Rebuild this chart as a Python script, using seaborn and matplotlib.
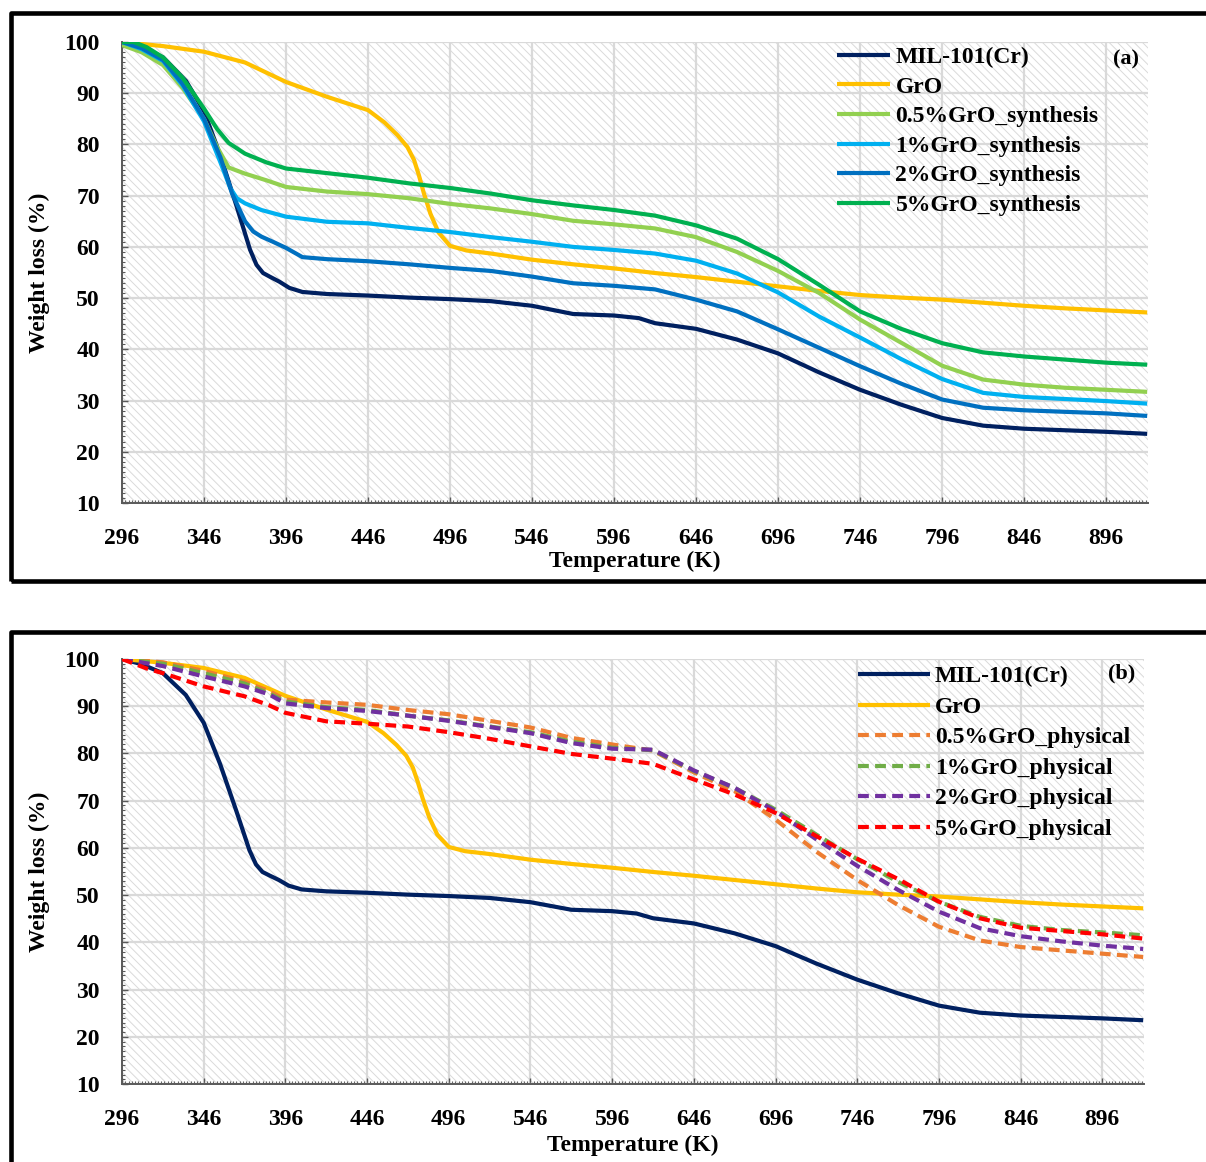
import matplotlib
matplotlib.use("Agg")
import matplotlib.pyplot as plt
import seaborn as sns
from matplotlib.patches import Rectangle
from matplotlib.ticker import MultipleLocator

# ---------------- data ----------------
mil_T = [296, 308, 321, 335, 346, 356, 366, 374, 378, 382, 386, 392, 398, 406, 421, 446, 471, 496,
         521, 546, 571, 596, 611, 621, 646, 671, 696, 721, 746, 771, 796, 821, 846, 871, 896, 921]
mil_w = [100, 98.9, 97.0, 92.4, 86.5, 77.8, 67.8, 59.5, 56.5, 54.9, 54.2, 53.2, 52.0, 51.2, 50.8, 50.5, 50.1, 49.8,
         49.4, 48.5, 46.9, 46.6, 46.1, 45.1, 44.0, 41.9, 39.2, 35.5, 32.1, 29.2, 26.6, 25.1, 24.5, 24.2, 23.9, 23.5]

gro_T = [296, 321, 346, 371, 396, 421, 446, 456, 464, 470, 474, 477, 480, 484, 489, 496, 506,
         521, 546, 571, 596, 621, 646, 671, 696, 721, 746, 771, 796, 821, 846, 871, 896, 921]
gro_w = [100, 99.2, 98.1, 96.0, 92.2, 89.3, 86.7, 84.3, 81.8, 79.5, 77.0, 74.0, 70.5, 66.5, 62.8, 60.2, 59.3,
         58.7, 57.5, 56.6, 55.8, 54.9, 54.1, 53.2, 52.3, 51.4, 50.6, 50.1, 49.7, 49.1, 48.5, 48.0, 47.6, 47.2]

s05_T = [296, 308, 321, 333, 346, 354, 361, 371, 384, 396, 421, 446, 471, 496, 521, 546, 571, 596,
         621, 646, 671, 696, 721, 746, 771, 796, 821, 846, 871, 896, 921]
s05_w = [99.4, 98.0, 95.5, 91.0, 85.0, 79.5, 75.5, 74.3, 73.0, 71.7, 70.8, 70.3, 69.5, 68.4, 67.5, 66.4, 65.1, 64.4,
         63.6, 61.9, 59.0, 55.3, 51.0, 45.8, 41.3, 36.8, 34.1, 33.1, 32.5, 32.1, 31.7]

s1_T = [296, 308, 321, 333, 346, 356, 362, 366, 371, 381, 396, 421, 446, 471, 496, 521, 546, 571, 596,
        621, 646, 671, 696, 721, 746, 771, 796, 821, 846, 871, 896, 921]
s1_w = [100, 98.6, 96.3, 91.5, 84.5, 76.5, 71.5, 69.5, 68.5, 67.2, 65.9, 64.9, 64.6, 63.7, 62.9, 61.9, 61.0, 60.0, 59.4,
        58.7, 57.3, 54.8, 51.1, 46.4, 42.3, 38.1, 34.2, 31.5, 30.7, 30.3, 29.9, 29.4]

s2_T = [296, 308, 321, 333, 346, 356, 363, 371, 376, 381, 388, 396, 406, 421, 446, 471, 496, 521, 546, 571, 596,
        621, 646, 671, 696, 721, 746, 771, 796, 821, 846, 871, 896, 921]
s2_w = [100, 98.8, 96.5, 91.8, 85.0, 77.5, 70.5, 65.0, 63.0, 62.0, 61.0, 59.8, 58.0, 57.6, 57.2, 56.6, 55.9, 55.3, 54.2, 52.9, 52.4,
        51.7, 49.7, 47.4, 43.9, 40.3, 36.7, 33.3, 30.2, 28.6, 28.1, 27.8, 27.5, 27.0]

s5_T = [296, 303, 311, 321, 333, 346, 354, 361, 371, 384, 396, 421, 446, 471, 496, 521, 546, 571, 596,
        621, 646, 671, 696, 721, 746, 771, 796, 821, 846, 871, 896, 921]
s5_w = [100, 100, 99.0, 97.0, 93.0, 87.0, 83.0, 80.3, 78.2, 76.5, 75.3, 74.4, 73.5, 72.4, 71.5, 70.4, 69.1, 68.1, 67.2,
        66.1, 64.2, 61.6, 57.6, 52.6, 47.4, 44.0, 41.2, 39.4, 38.6, 38.0, 37.4, 37.0]

phys_T = [296, 321, 346, 371, 386, 396, 421, 446, 471, 496, 521, 546, 571, 596,
          621, 646, 671, 696, 721, 746, 771, 796, 821, 846, 871, 896, 921]
p05_w = [100, 99.3, 97.5, 95.2, 93.2, 91.4, 90.8, 90.3, 89.2, 88.3, 86.9, 85.5, 83.3, 81.9,
         80.6, 76.0, 72.0, 66.0, 59.2, 53.2, 47.9, 43.3, 40.4, 39.0, 38.3, 37.6, 36.9]
p1_w = [100, 99.0, 97.0, 94.8, 92.7, 91.0, 89.8, 89.2, 88.0, 87.0, 85.7, 84.5, 82.5, 81.2,
        80.7, 76.3, 72.7, 68.1, 62.8, 57.6, 52.8, 48.6, 45.4, 43.5, 42.6, 42.1, 41.5]
p2_w = [100, 98.5, 96.3, 94.2, 92.5, 90.6, 89.6, 89.0, 88.0, 86.9, 85.6, 84.3, 82.2, 81.0,
        80.8, 76.4, 72.7, 67.8, 61.8, 56.2, 51.1, 46.5, 43.0, 41.3, 40.2, 39.3, 38.6]
p5_T = [296, 311, 321, 346, 371, 386, 396, 421, 446, 471, 496, 521, 546, 571, 596,
        621, 646, 671, 696, 721, 746, 771, 796, 821, 846, 871, 896, 921]
p5_w = [100, 98.0, 97.0, 94.2, 92.1, 90.2, 88.6, 86.8, 86.3, 85.7, 84.5, 83.1, 81.5, 79.9, 78.9,
        77.8, 74.5, 71.3, 67.4, 62.5, 57.7, 53.4, 48.6, 45.1, 43.1, 42.4, 41.7, 40.8]

x_ticks = [296, 346, 396, 446, 496, 546, 596, 646, 696, 746, 796, 846, 896]
y_ticks = [10, 20, 30, 40, 50, 60, 70, 80, 90, 100]

# ---------------- style ----------------
plt.rcParams["font.family"] = ["Liberation Serif", "DejaVu Serif"]
plt.rcParams["font.weight"] = "bold"
plt.rcParams["hatch.linewidth"] = 0.7

W, H = 1206, 1162
fig = plt.figure(figsize=(W / 100, H / 100), dpi=100)

# panel frames
lw_frame = 3.3
fig.patches.append(Rectangle((11 / W, 1 - 580.5 / H), 1.2, (580.5 - 13) / H, transform=fig.transFigure,
                             fill=False, edgecolor="black", linewidth=lw_frame, joinstyle="round"))
fig.patches.append(Rectangle((11 / W, -0.2), 1.2, 0.2 + 1 - 632 / H, transform=fig.transFigure,
                             fill=False, edgecolor="black", linewidth=lw_frame, joinstyle="round"))

ax_a = fig.add_axes([122 / W, 1 - 503 / H, (1148 - 122) / W, (503 - 42) / H])
ax_b = fig.add_axes([122 / W, 1 - 1084 / H, (1144 - 122) / W, (1084 - 659) / H])

FS = 17


def style_axes(ax, xlab_y, tag, tag_xy):
    ax.set_facecolor("white")
    ax.add_patch(Rectangle((0, 0), 1, 1, transform=ax.transAxes, facecolor="none",
                           edgecolor="#dadada", hatch="\\\\\\\\", linewidth=0, zorder=0.2))
    ax.set_axisbelow(True)
    ax.set_xlim(296, 921.5)
    ax.set_ylim(10, 100)
    ax.set_xticks(x_ticks)
    ax.set_yticks(y_ticks)
    ax.xaxis.set_minor_locator(MultipleLocator(2))
    ax.yaxis.set_minor_locator(MultipleLocator(1))
    ax.grid(True, which="major", color="#d9d9d9", linewidth=1.6)
    for s in ["top", "right"]:
        ax.spines[s].set_visible(False)
    for s in ["left", "bottom"]:
        ax.spines[s].set_color("#595959")
        ax.spines[s].set_linewidth(1.4)
    ax.tick_params(axis="both", which="major", direction="in", length=4, width=1, color="#595959",
                   labelsize=FS)
    ax.tick_params(axis="both", which="minor", direction="in", length=2, width=0.8, color="#595959")
    ax.tick_params(axis="x", which="major", pad=18)
    ax.tick_params(axis="y", which="major", pad=16)
    for lab in ax.get_xticklabels() + ax.get_yticklabels():
        lab.set_fontweight("bold")
    ax.set_xlabel("Temperature (K)", fontsize=FS, fontweight="bold")
    ax.set_ylabel("Weight loss (%)", fontsize=FS, fontweight="bold")
    ax.xaxis.set_label_coords(0.5, xlab_y)
    ax.yaxis.set_label_coords(-0.07, 0.5)
    ax.text(tag_xy[0], tag_xy[1], tag, transform=ax.transAxes, ha="center", va="center",
            fontsize=FS - 1, fontweight="bold")


LW = 3.0
# panel (a)
syn = [
    (mil_T, mil_w, "#002060", "MIL-101(Cr)"),
    (gro_T, gro_w, "#ffc000", "GrO"),
    (s05_T, s05_w, "#92d050", "0.5%GrO_synthesis"),
    (s1_T, s1_w, "#00b0f0", "1%GrO_synthesis"),
    (s2_T, s2_w, "#0070c0", "2%GrO_synthesis"),
    (s5_T, s5_w, "#00b050", "5%GrO_synthesis"),
]
for T, w, c, lab in syn:
    sns.lineplot(x=T, y=w, ax=ax_a, color=c, linewidth=LW, label=lab, sort=False, estimator=None,
                 solid_capstyle="butt", solid_joinstyle="round", zorder=3)
style_axes(ax_a, -0.103, "(a)", (0.979, 0.961))
leg_a = ax_a.legend(loc="upper left", bbox_to_anchor=(0.697, 0.99), frameon=False, fontsize=FS,
                    handlelength=2.25, handletextpad=0.22, labelspacing=0.34, borderpad=0, borderaxespad=0)
for t in leg_a.get_texts():
    t.set_fontweight("bold")

# panel (b)
DASH = (0, (2.6, 1.5))
phys = [
    (mil_T, mil_w, "#002060", "MIL-101(Cr)", "-"),
    (gro_T, gro_w, "#ffc000", "GrO", "-"),
    (phys_T, p05_w, "#ed7d31", "0.5%GrO_physical", DASH),
    (phys_T, p1_w, "#70ad47", "1%GrO_physical", DASH),
    (phys_T, p2_w, "#7030a0", "2%GrO_physical", DASH),
    (p5_T, p5_w, "#ff0000", "5%GrO_physical", DASH),
]
for T, w, c, lab, ls in phys:
    sns.lineplot(x=T, y=w, ax=ax_b, color=c, linewidth=LW, label=lab, sort=False, estimator=None,
                 linestyle=ls, solid_capstyle="butt", solid_joinstyle="round", zorder=3)
style_axes(ax_b, -0.12, "(b)", (0.978, 0.967))
leg_b = ax_b.legend(loc="upper left", bbox_to_anchor=(0.720, 0.984), frameon=False, fontsize=FS,
                    handlelength=3.05, handletextpad=0.22, labelspacing=0.38, borderpad=0, borderaxespad=0)
for t in leg_b.get_texts():
    t.set_fontweight("bold")

fig.savefig("out.png", dpi=100)
